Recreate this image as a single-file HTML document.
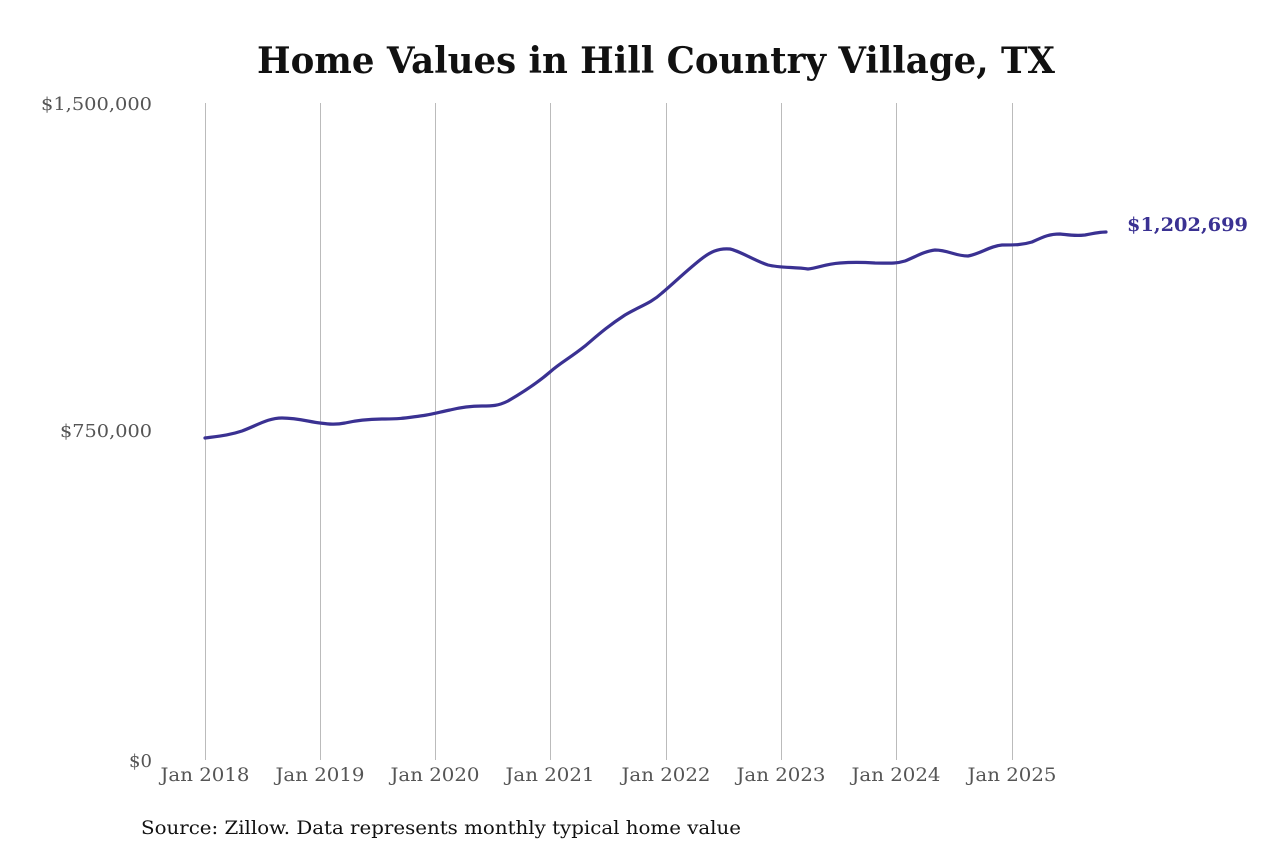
<!DOCTYPE html>
<html><head><meta charset="utf-8"><style>
html,body{margin:0;padding:0;background:#fff;}
svg{display:block;}
</style></head><body>
<svg width="1280" height="853" viewBox="0 0 1280 853" xmlns="http://www.w3.org/2000/svg">
<rect width="1280" height="853" fill="#fff"/>
<text x="257" y="73" textLength="798" lengthAdjust="spacingAndGlyphs" font-family="'DejaVu Serif',serif" font-weight="bold" font-size="36" fill="#111">Home Values in Hill Country Village, TX</text>
<g stroke="#bbb" stroke-width="1">
<line x1="205.5" y1="103" x2="205.5" y2="760"/>
<line x1="320.5" y1="103" x2="320.5" y2="760"/>
<line x1="435.5" y1="103" x2="435.5" y2="760"/>
<line x1="550.5" y1="103" x2="550.5" y2="760"/>
<line x1="666.5" y1="103" x2="666.5" y2="760"/>
<line x1="781.5" y1="103" x2="781.5" y2="760"/>
<line x1="896.5" y1="103" x2="896.5" y2="760"/>
<line x1="1012.5" y1="103" x2="1012.5" y2="760"/>
</g>
<g font-family="'DejaVu Serif',serif" font-size="18" fill="#555">
<text x="41" y="110" textLength="111" lengthAdjust="spacingAndGlyphs">$1,500,000</text>
<text x="60" y="437" textLength="92" lengthAdjust="spacingAndGlyphs">$750,000</text>
<text x="129" y="767" textLength="23" lengthAdjust="spacingAndGlyphs">$0</text>
<g text-anchor="middle" font-size="19">
<text x="205" y="781" textLength="89" lengthAdjust="spacingAndGlyphs">Jan 2018</text>
<text x="320" y="781" textLength="89" lengthAdjust="spacingAndGlyphs">Jan 2019</text>
<text x="435" y="781" textLength="89" lengthAdjust="spacingAndGlyphs">Jan 2020</text>
<text x="550" y="781" textLength="89" lengthAdjust="spacingAndGlyphs">Jan 2021</text>
<text x="666" y="781" textLength="89" lengthAdjust="spacingAndGlyphs">Jan 2022</text>
<text x="781" y="781" textLength="89" lengthAdjust="spacingAndGlyphs">Jan 2023</text>
<text x="896" y="781" textLength="89" lengthAdjust="spacingAndGlyphs">Jan 2024</text>
<text x="1012" y="781" textLength="89" lengthAdjust="spacingAndGlyphs">Jan 2025</text>
</g>
</g>
<path fill="none" stroke="#3a3192" stroke-width="3.2" stroke-linejoin="round" stroke-linecap="round"
d="M205,438 C220,436 230,435 242,431 C258,425 268,418 282,418 C298,418 310,422 320,423 C328,424 335,425 345,423 C358,420 370,419 385,419 C400,419 405,418 420,416 C430,415 440,412 450,410 C462,407 470,406 482,406 C492,406 498,406 508,401 C520,394 535,385 550,372 C560,363 570,358 585,346 C598,335 608,326 625,315 C640,306 650,304 662,293 C675,282 685,272 700,260 C710,252 718,248 730,249 C740,251 755,261 768,265 C780,268 795,267 808,269 C818,268 825,264 840,263 C852,262 860,262 875,263 C888,263 895,264 905,261 C915,257 925,251 935,250 C948,250 955,256 968,256 C980,254 990,246 1002,245 C1015,245 1022,245 1032,242 C1045,236 1050,234 1060,234 C1070,235 1075,236 1085,235 C1095,233 1100,232 1106,232"/>
<text x="1127" y="231" textLength="121" lengthAdjust="spacingAndGlyphs" font-family="'DejaVu Serif',serif" font-weight="bold" font-size="19" fill="#3a3192">$1,202,699</text>
<text x="141" y="834" textLength="600" lengthAdjust="spacingAndGlyphs" font-family="'DejaVu Serif',serif" font-size="19" fill="#111">Source: Zillow. Data represents monthly typical home value</text>
</svg>
</body></html>
